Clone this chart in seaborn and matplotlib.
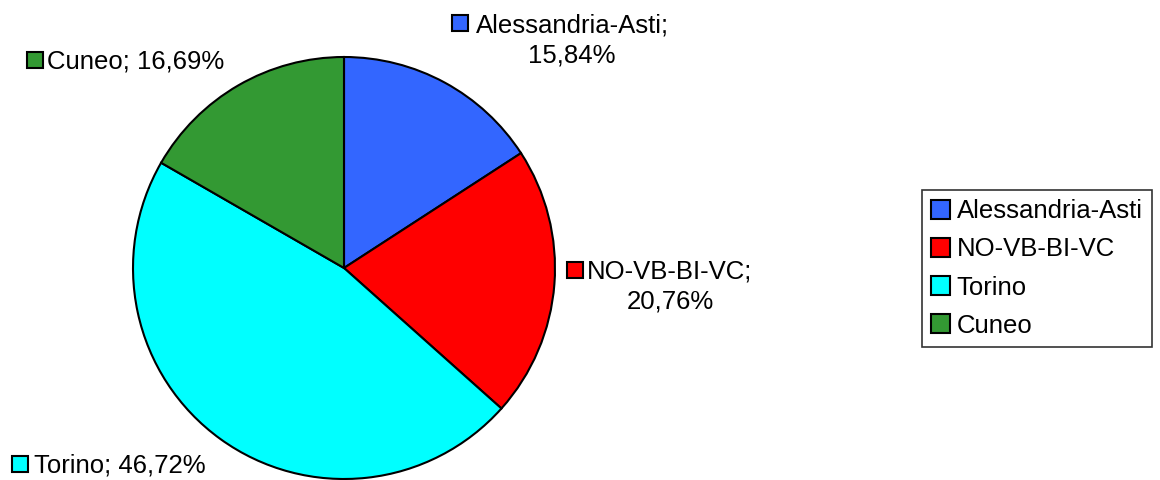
import matplotlib
matplotlib.use("Agg")
import matplotlib.pyplot as plt
import seaborn as sns
from matplotlib.patches import Patch

categories = ["Alessandria-Asti", "NO-VB-BI-VC", "Torino", "Cuneo"]
values = [15.84, 20.76, 46.72, 16.69]
value_labels = ["15,84%", "20,76%", "46,72%", "16,69%"]
colors = ["#3366FF", "#FF0000", "#00FFFF", "#339933"]

sns.set_style("white")
plt.rcParams["font.family"] = ["Liberation Sans", "DejaVu Sans"]
plt.rcParams["text.color"] = "black"
palette = sns.color_palette(colors)

W, H = 1160, 480
fig = plt.figure(figsize=(W / 100, H / 100), dpi=100)
ax = fig.add_axes([0, 0, 1, 1])

def Y(p):
    return H - p

ax.pie(values, colors=palette, startangle=90, counterclock=False,
       center=(344, Y(268)), radius=211,
       wedgeprops=dict(edgecolor="black", linewidth=1.5))
ax.set_xlim(0, W)
ax.set_ylim(0, H)
ax.set_aspect("equal")
ax.axis("off")

FS = 18.5

def label(sq_xy, txt_xy, text, color, line2=None):
    ax.plot([sq_xy[0]], [Y(sq_xy[1])], marker="s", markersize=11,
            markerfacecolor=color, markeredgecolor="black", markeredgewidth=1.5,
            linestyle="none")
    ax.text(txt_xy[0], Y(txt_xy[1]), text, fontsize=FS, ha="left", va="baseline",
            color="black")
    if line2 is not None:
        ax.text(line2[0], Y(line2[1]), line2[2], fontsize=FS, ha="center",
                va="baseline", color="black")

label((460, 23), (476, 32), categories[0] + ";", colors[0], (572, 63, value_labels[0]))
label((574.5, 270), (587, 278), categories[1] + ";", colors[1], (670, 308, value_labels[1]))
label((20, 464), (34, 473), categories[2] + "; " + value_labels[2], colors[2])
label((34.5, 60), (47, 68), categories[3] + "; " + value_labels[3], colors[3])

handles = [Patch(facecolor=c, edgecolor="black", linewidth=1.5) for c in colors]
leg = fig.legend(handles, categories, loc="center left",
                 bbox_to_anchor=(922 / W, Y(268.5) / H),
                 fontsize=FS, frameon=True, fancybox=False, edgecolor="black",
                 handlelength=0.75, handleheight=0.75, handletextpad=0.25,
                 labelspacing=0.55, borderpad=0.35, borderaxespad=0)
leg.get_frame().set_linewidth(1.2)
for t in leg.get_texts():
    t.set_color("black")

fig.savefig("out.png", dpi=100)
